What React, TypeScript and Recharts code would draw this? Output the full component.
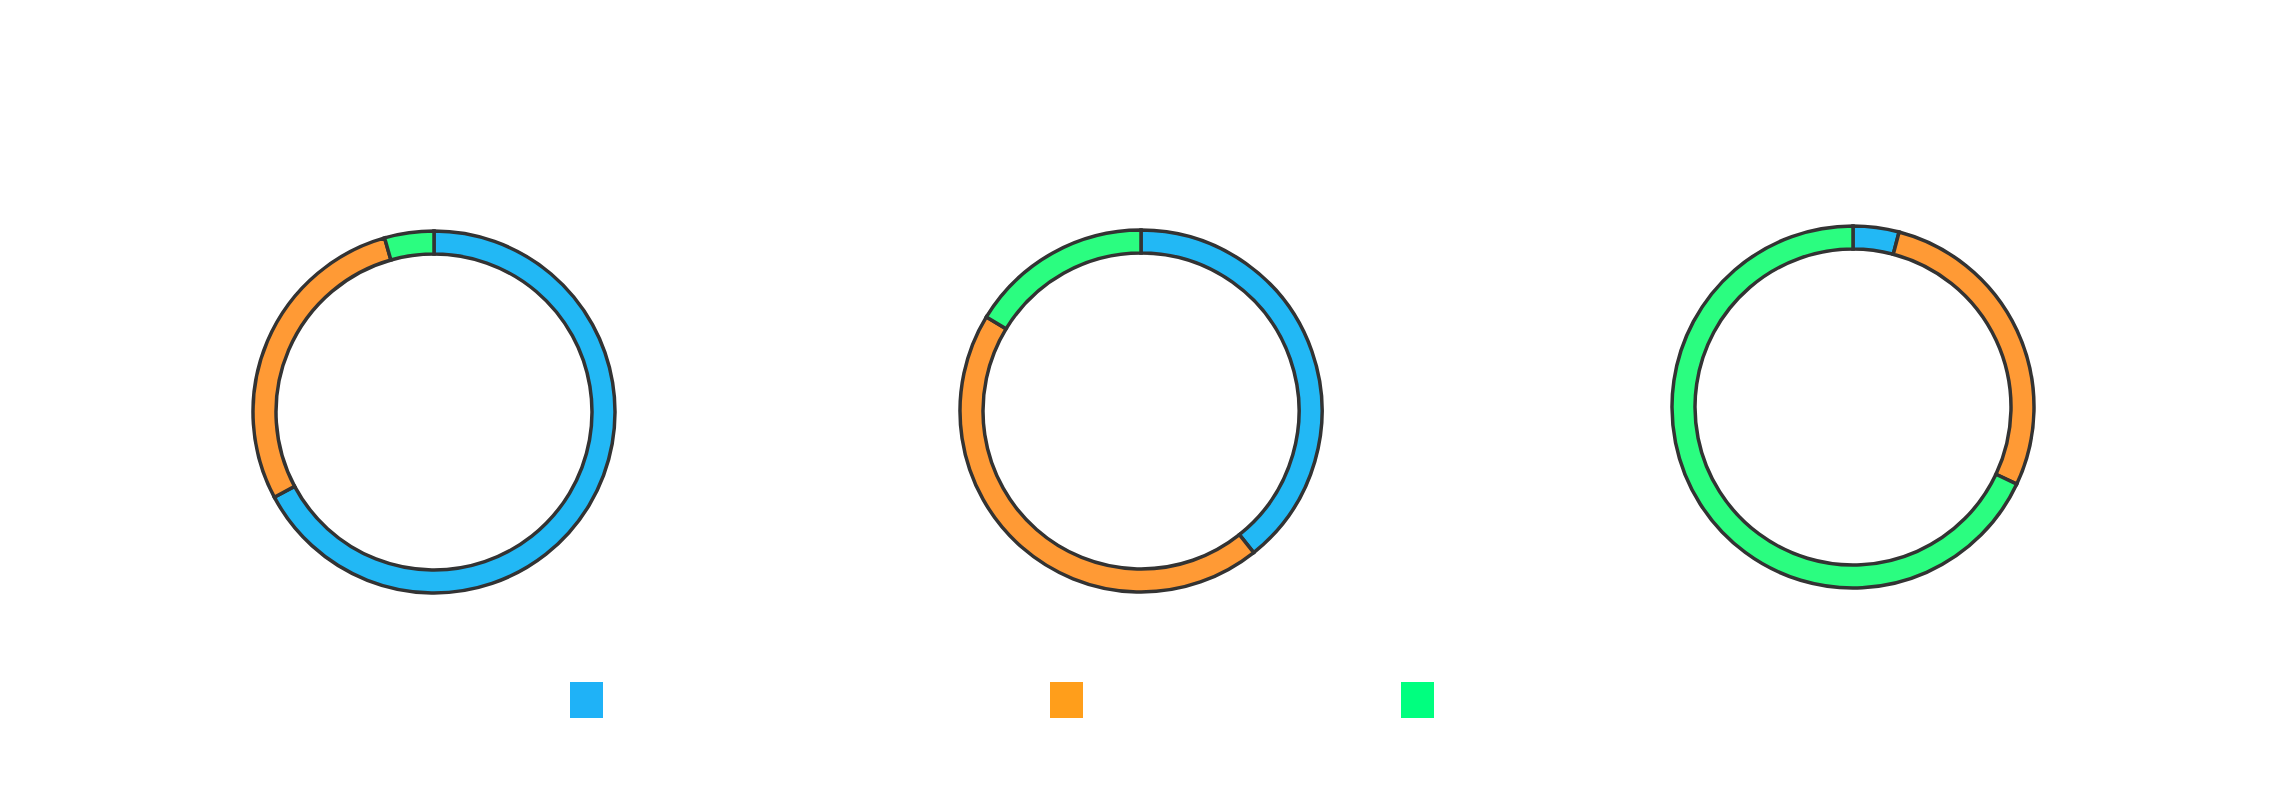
import { PieChart, Pie, Cell, Legend } from 'recharts';

// ─── Data ────────────────────────────────────────────────────────────────────

const SEGMENTS = ['blue', 'orange', 'green'];
const RING_A = [67.2, 28.4, 4.4];
const RING_B = [39.3, 44.4, 16.3];
const RING_C = [4.1, 27.9, 68.0];

const SLICE_COLORS = ['#22B8F5', '#FF9A35', '#2BFD80'];
const LEGEND_COLORS = ['#1FB2F7', '#FF9E1B', '#00FF7F'];
const LEGEND_GAPS = [570, 447, 318]; // left offsets before each swatch

const toRows = (values: number[]) =>
  values.map((value, i) => ({ name: SEGMENTS[i], value }));

const RINGS = [
  { data: toRows(RING_A), cx: 434, cy: 412 },
  { data: toRows(RING_B), cx: 1141, cy: 411 },
  { data: toRows(RING_C), cx: 1853, cy: 407 },
];

// ─── Legend ──────────────────────────────────────────────────────────────────

function SwatchLegend() {
  return (
    <div style={{ display: 'flex', alignItems: 'flex-start', height: 36 }}>
      {SEGMENTS.map((s, i) => (
        <div
          key={s}
          style={{ marginLeft: LEGEND_GAPS[i], width: 33, height: 36, background: LEGEND_COLORS[i] }}
        />
      ))}
    </div>
  );
}

// ─── App ─────────────────────────────────────────────────────────────────────

export default function App() {
  return (
    <div style={{ position: 'fixed', top: 0, left: 0, width: 2271, height: 793, background: '#fff' }}>
      <PieChart width={2271} height={793} margin={{ top: 0, right: 0, bottom: 0, left: 0 }}>
        {RINGS.map((r, k) => (
          <Pie
            key={k}
            data={r.data}
            dataKey="value"
            nameKey="name"
            cx={r.cx}
            cy={r.cy}
            innerRadius={158}
            outerRadius={181}
            startAngle={90}
            endAngle={-270}
            stroke="#333"
            strokeWidth={3.5}
            isAnimationActive={false}
            legendType="none"
          >
            {r.data.map((d, i) => (
              <Cell key={d.name} fill={SLICE_COLORS[i]} />
            ))}
          </Pie>
        ))}
        <Legend
          content={<SwatchLegend />}
          wrapperStyle={{ position: 'absolute', left: 0, top: 682, width: 2271 }}
        />
      </PieChart>
    </div>
  );
}
